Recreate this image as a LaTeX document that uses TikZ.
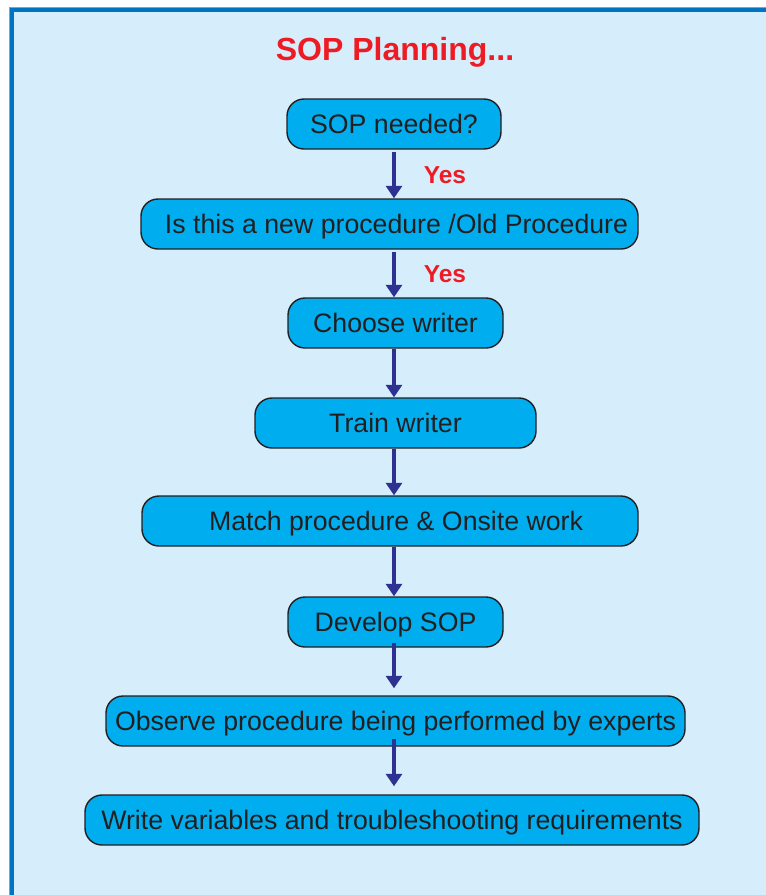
\documentclass[tikz,border=0pt]{standalone}
\usepackage{fontspec}
\setmainfont{Liberation Sans}
\usetikzlibrary{arrows.meta}
\definecolor{bgblue}{HTML}{D6EEFB}
\definecolor{lightline}{HTML}{5BB0E3}
\definecolor{darkband}{HTML}{0073C2}
\definecolor{boxfill}{HTML}{00AEEF}
\definecolor{boxline}{HTML}{231F20}
\definecolor{titlered}{HTML}{ED1C24}
\definecolor{arrowblue}{HTML}{2E3192}
\begin{document}
\begin{tikzpicture}[x=1pt,y=-1pt,
  stepbox/.style={draw=boxline, line width=1.4pt, fill=boxfill, rounded corners=17pt,
    minimum height=50pt, inner sep=0pt, text height=24.5pt, text depth=5.5pt,
    font=\fontsize{26.7}{30}\selectfont, text=boxline},
  flowarrow/.style={draw=arrowblue, line width=3.5pt, -{Triangle[width=16pt,length=12.5pt]}},
  yeslabel/.style={font=\bfseries\fontsize{24.5}{28}\selectfont, text=titlered, inner sep=0pt}]
\useasboundingbox (0,0) rectangle (766,895);
\clip (0,0) rectangle (766,895);
\fill[white] (0,0) rectangle (766,895);
\fill[lightline] (8.5,6.5) rectangle (800,920);
\fill[bgblue] (9.6,7.6) rectangle (800,920);
\draw[darkband, line width=4pt] (12,920) |- (800,9.8);

\node[font=\bfseries\fontsize{32}{36}\selectfont, text=titlered, inner sep=0pt] (title) at (395,52) {SOP Planning...};

\node[stepbox, minimum width=214pt] (b1) at (394,124) {SOP needed?};
\node[stepbox, minimum width=497pt] (b2) at (389.5,224) {\hspace*{14pt}Is this a new procedure /Old Procedure};
\node[stepbox, minimum width=215pt] (b3) at (395.5,323) {Choose writer};
\node[stepbox, minimum width=281pt] (b4) at (395.5,423) {Train writer};
\node[stepbox, minimum width=496pt] (b5) at (390,521) {\hspace*{12pt}Match procedure \& Onsite work};
\node[stepbox, minimum width=215pt] (b6) at (395.5,622) {Develop SOP};
\node[stepbox, minimum width=579pt] (b7) at (395.5,721) {Observe procedure being performed by experts};
\node[stepbox, minimum width=614pt] (b8) at (392,820) {Write variables and troubleshooting requirements};

\coordinate (ax) at (394,0);
\draw[flowarrow, shorten <=2pt] (b1.south -| ax) -- (b2.north -| ax);
\draw[flowarrow, shorten <=2pt] (b2.south -| ax) -- (b3.north -| ax);
\draw[flowarrow, shorten <=0pt] (b3.south -| ax) -- (b4.north -| ax);
\draw[flowarrow, shorten <=0pt] (b4.south -| ax) -- (b5.north -| ax);
\draw[flowarrow, shorten <=0pt] (b5.south -| ax) -- (b6.north -| ax);
\draw[flowarrow, shorten <=-5pt, shorten >=7pt] (b6.south -| ax) -- (b7.north -| ax);
\draw[flowarrow, shorten <=-8pt, shorten >=8pt] (b7.south -| ax) -- (b8.north -| ax);

\node[yeslabel] (y1) at (445,175) {Yes};
\node[yeslabel] (y2) at (445,274) {Yes};
\end{tikzpicture}
\end{document}
